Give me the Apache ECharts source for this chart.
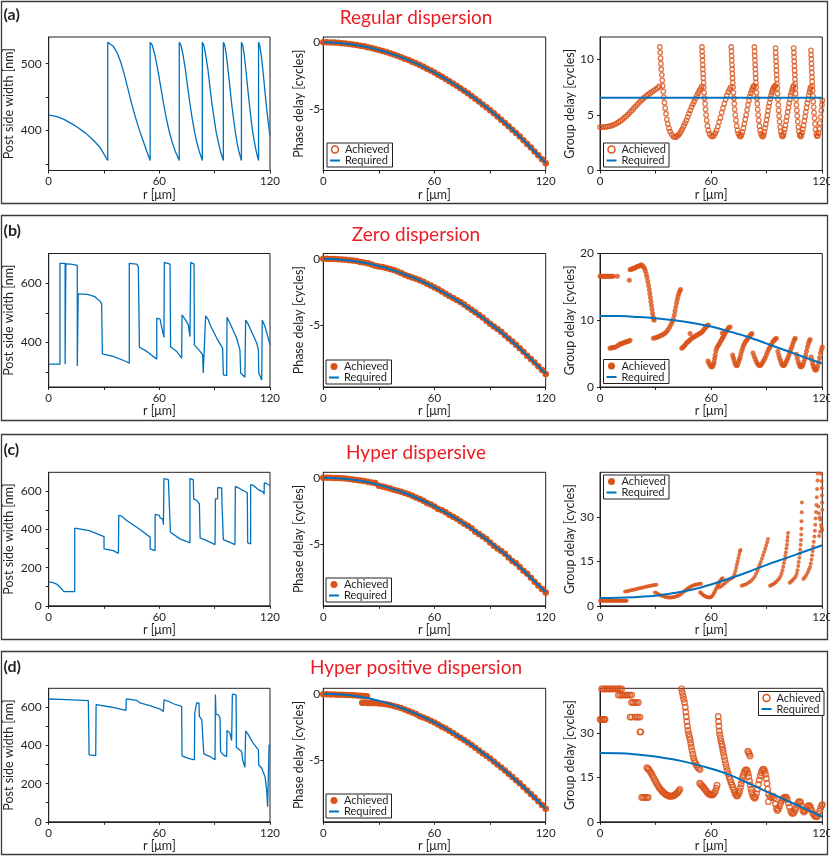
<!DOCTYPE html>
<html>
<head>
<meta charset="utf-8">
<script src="https://cdn.jsdelivr.net/npm/echarts@6/dist/echarts.min.js"></script>
<style>
html, body { margin: 0; padding: 0; background: #fff; }
#main { width: 830px; height: 857px; }
</style>
</head>
<body>
<div id="main"></div>
<script>
// ---------- 数据 ----------
// r 轴刻度
var rTicks = [0, 30, 60, 90, 120];
var rLabels = [0, 60, 120];

// 柱宽 Post side width [nm] —— [r, w]
var widthA = [[0,423],[4,421],[8,417],[12,411],[16,404],[20,396],[24,386],[28,374],[32,355],
  [32,532],[33,531],[35,526],[37,517],[39,503],[41,484],[43,462],[45,440],[47,420],[49,402],[51,386],[53,370],[55,355],
  [55,532],[56.1,528],[57.5,514],[59.1,492],[60.7,466],[62.3,440],[63.8,418],[65.4,398],[67,382],[68.6,369],[69.9,361],[70.8,355],
  [70.8,532],[71.7,528],[72.8,514],[74.1,492],[75.3,466],[76.6,440],[77.8,418],[79.1,398],[80.3,382],[81.6,369],[82.6,361],[83.3,355],
  [83.3,532],[84.1,528],[85.1,514],[86.3,492],[87.4,466],[88.5,440],[89.7,418],[90.8,398],[92,382],[93.1,369],[94,361],[94.7,355],
  [94.7,532],[95.4,528],[96.3,514],[97.2,492],[98.2,466],[99.2,440],[100.2,418],[101.2,398],[102.1,382],[103.1,369],[103.9,361],[104.5,355],
  [104.5,532],[105.2,528],[106,514],[106.9,492],[107.8,466],[108.8,440],[109.7,418],[110.6,398],[111.6,382],[112.5,369],[113.2,361],[113.8,355],
  [113.8,532],[114.4,528],[115.2,514],[116.1,492],[117,466],[117.9,440],[118.8,418],[119.7,398],[120,393]];

var widthB = [[0,327],[6.1,327],[6.1,667],[8.9,667],[8.9,327],[9.3,327],[9.3,665],[12,664],[15.5,660],[15.5,321],[16,321],[16,564],
  [21,562],[25,555],[26,548],[27.8,540],[28.7,530],[29.1,528],[29.1,362],[35,353],[42,336],[43.7,330],[43.7,667],[47.7,664],
  [48.6,656],[49.2,654],[49.2,384],[53.2,370],[58.6,344],[58.6,482],[60.4,479],[60.8,465],[61.8,460],[62.5,417],[62.7,417],
  [62.7,670],[65.8,664],[66.1,660],[66.1,386],[69.4,370],[72.1,347],[72.3,347],[72.3,493],[73.9,479],[74.8,477],[75.7,460],
  [76.6,420],[77,420],[77,670],[78.8,664],[79,660],[79,392],[82.1,370],[83.5,358],[83.8,297],[84.8,291],[85.1,291],[85.1,490],
  [86.6,476],[87.5,460],[91.1,415],[94.3,381],[94.7,381],[94.7,291],[96.5,288],[96.7,288],[96.7,485],[98.3,465],[101.9,415],
  [103.7,375],[104.1,375],[104.1,297],[106.4,283],[106.8,283],[106.8,476],[108.3,460],[112.8,398],[113.7,375],[113.9,375],
  [113.9,297],[115.5,274],[115.8,274],[115.8,476],[117.3,454],[120,392]];

var widthC = [[0,126],[2,123],[4.3,114],[6,99],[7,88],[8.3,74],[14.1,74],[14.1,407],[22,394],[30,363],[30,298],[35,289],
  [37.8,275],[38,275],[38,474],[39.6,470],[42.3,447],[49.5,400],[55,360],[55,298],[57.7,289],[57.7,479],[60,474],[60.4,461],
  [61.8,456],[62.2,425],[62.5,425],[62.5,667],[64.9,661],[65.8,654],[66,654],[66,386],[71.2,351],[76.6,330],[76.6,667],
  [78.4,661],[78.6,661],[78.6,561],[80.2,553],[81.7,535],[82.1,535],[82.1,356],[85.7,342],[90.2,321],[90.4,321],[90.4,561],
  [91.6,561],[91.6,619],[93.8,618],[94,618],[94,526],[94.3,518],[94.7,518],[94.7,347],[98.3,333],[101,321],[101.2,321],
  [101.2,626],[103.7,614],[107.7,593],[107.9,593],[107.9,330],[109.5,325],[109.5,635],[110.9,632],[113.7,609],[116.4,596],
  [116.8,584],[116.9,584],[116.9,644],[118.2,640],[118.8,632],[120,632]];

var widthD = [[0,644],[10,641],[21.5,635],[21.9,635],[21.9,351],[25.5,347],[25.7,347],[25.7,614],[33.6,602],[41.9,584],
  [42.1,584],[42.1,644],[47.7,637],[49.5,623],[54.9,609],[60.4,591],[62.2,579],[62.5,579],[62.5,640],[64.9,632],[67.6,619],
  [72.1,605],[72.3,605],[72.3,346],[75.7,333],[79,325],[79.2,325],[79.2,570],[80,570],[80.2,570],[80.2,623],[81.5,623],
  [81.7,623],[81.7,553],[83,535],[83.9,530],[84.1,530],[84.1,356],[87.5,342],[90.2,325],[90.4,325],[90.4,667],[90.7,667],
  [90.7,565],[92,561],[92.9,544],[93.2,544],[93.2,368],[94.7,351],[96.5,342],[96.7,342],[96.7,479],[98.3,465],[99.2,426],
  [99.6,426],[99.6,670],[101.6,665],[101.8,665],[101.8,391],[104.6,368],[105.2,325],[106.4,286],[106.8,286],[106.8,477],
  [108.3,456],[110.9,412],[113.7,377],[113.9,377],[113.9,298],[115.5,281],[117.3,237],[118.2,167],[118.7,79],[119.2,75],
  [119.5,75],[119.5,404],[120,395]];

// 相位延迟 Phase delay —— 实现值 (r 每 2 μm)
var rPhase = [0,2,4,6,8,10,12,14,16,18,20,22,24,26,28,30,32,34,36,38,40,42,44,46,48,50,52,54,56,58,
  60,62,64,66,68,70,72,74,76,78,80,82,84,86,88,90,92,94,96,98,100,102,104,106,108,110,112,114,116,118,120];
var phaseAchA = [0,0,-0.01,-0.02,-0.04,-0.06,-0.09,-0.12,-0.16,-0.20,-0.25,-0.30,-0.36,-0.43,-0.49,-0.57,-0.64,-0.73,-0.82,-0.91,
  -1.01,-1.11,-1.22,-1.33,-1.45,-1.57,-1.70,-1.83,-1.97,-2.11,-2.26,-2.42,-2.57,-2.74,-2.91,-3.08,-3.26,-3.44,-3.63,-3.82,
  -4.02,-4.23,-4.43,-4.65,-4.87,-5.09,-5.32,-5.55,-5.79,-6.04,-6.29,-6.54,-6.80,-7.06,-7.33,-7.61,-7.88,-8.17,-8.46,-8.75,-9.05];
var phaseAchB = [0,0,-0.01,-0.02,-0.04,-0.05,-0.07,-0.10,-0.13,-0.17,-0.23,-0.28,-0.33,-0.42,-0.52,-0.58,-0.62,-0.69,-0.76,-0.84,
  -0.95,-1.06,-1.19,-1.30,-1.40,-1.49,-1.61,-1.72,-1.86,-2.00,-2.14,-2.27,-2.45,-2.62,-2.78,-2.94,-3.08,-3.24,-3.42,-3.62,
  -3.82,-4.01,-4.20,-4.40,-4.63,-4.86,-5.06,-5.26,-5.47,-5.73,-5.97,-6.20,-6.44,-6.69,-6.96,-7.25,-7.50,-7.77,-8.05,-8.33,-8.62];
var phaseAchC = [0,0,-0.01,-0.02,-0.03,-0.05,-0.07,-0.10,-0.13,-0.17,-0.21,-0.25,-0.30,-0.36,-0.40,-0.60,-0.66,-0.74,-0.82,-0.90,
  -0.98,-1.06,-1.15,-1.25,-1.36,-1.48,-1.60,-1.74,-1.90,-2.02,-2.17,-2.34,-2.45,-2.60,-2.78,-2.93,-3.08,-3.27,-3.45,-3.60,
  -3.80,-4.05,-4.22,-4.40,-4.60,-4.86,-5.10,-5.30,-5.50,-5.70,-5.98,-6.25,-6.42,-6.70,-6.98,-7.20,-7.50,-7.80,-8.08,-8.34,-8.60];
var phaseAchD = [-0.05,-0.05,-0.06,-0.07,-0.08,-0.09,-0.10,-0.11,-0.12,-0.14,-0.16,-0.18,-0.70,-0.70,-0.71,-0.73,-0.76,-0.80,-0.86,-0.92,
  -1.00,-1.08,-1.18,-1.30,-1.42,-1.52,-1.70,-1.78,-1.90,-2.03,-2.17,-2.32,-2.48,-2.62,-2.78,-2.95,-3.13,-3.30,-3.48,-3.66,
  -3.85,-4.05,-4.26,-4.46,-4.65,-4.86,-5.08,-5.30,-5.53,-5.76,-6.00,-6.24,-6.48,-6.72,-6.99,-7.26,-7.52,-7.78,-8.06,-8.35,-8.63];
var phaseAchDExtra = [[21,-0.68],[22,-0.69],[23,-0.19],[23.5,-0.20],[25,-0.70],[27,-0.70]];

// 要求值 (r 每 10 μm)
var rReq = [0,10,20,30,40,50,60,70,80,90,100,110,120];
var phaseReqA = [0,-0.06,-0.25,-0.57,-1.01,-1.57,-2.26,-3.08,-4.02,-5.09,-6.29,-7.61,-9.05];
var phaseReqB = [0,-0.06,-0.24,-0.54,-0.96,-1.49,-2.15,-2.93,-3.82,-4.84,-5.97,-7.23,-8.60];
var phaseReqC = [0,-0.06,-0.24,-0.54,-0.96,-1.49,-2.15,-2.93,-3.82,-4.84,-5.97,-7.23,-8.58];
var phaseReqD = [0,-0.06,-0.24,-0.54,-0.96,-1.50,-2.16,-2.94,-3.84,-4.86,-6.00,-7.26,-8.63];
var gdReqA = [6.55,6.55,6.55,6.55,6.55,6.55,6.55,6.55,6.55,6.55,6.55,6.55,6.55];
var gdReqB = [10.65,10.62,10.5,10.3,10.0,9.6,9.05,8.3,7.5,6.5,5.5,4.5,3.5];
var gdReqC = [2.6,2.7,3.0,3.4,4.3,5.5,7.2,9.2,11.4,13.8,16.0,18.2,20.4];
var gdReqD = [23.2,23.1,22.7,22.0,21.0,19.6,17.9,15.8,13.0,10.2,7.4,4.6,1.7];

// 群延迟 Group delay —— 实现值 [r, cycles]
var gdAchA = [[0,3.9],[1,3.9],[2,3.9],[3,3.92],[4,3.95],[5,3.98],[6,4.02],[7,4.08],[8,4.15],[9,4.24],[10,4.34],[11,4.45],
  [12,4.58],[13,4.72],[14,4.87],[15,5.03],[16,5.2],[17,5.37],[18,5.55],[19,5.73],[20,5.91],[21,6.08],[22,6.25],[23,6.41],
  [24,6.56],[25,6.7],[26,6.83],[27,6.95],[28,7.07],[29,7.18],[30,7.3],[31,7.42],[32,7.55],
  [32.3,11.1],[32.5,10.6],[32.7,10.1],[32.9,9.6],[33.1,9.1],[33.35,8.6],[33.6,8.1],[33.85,7.6],[34.15,7.1],[34.45,6.6],
  [34.8,6.1],[35.2,5.6],[35.65,5.1],[36.1,4.6],[36.6,4.2],[37.2,3.8],[37.9,3.5],[38.7,3.25],[39.6,3.05],[40.5,3.0],
  [41,3.02],[41.7,3.1],[42.4,3.2],[43.1,3.35],[43.8,3.55],[44.5,3.75],[45.2,4.0],[45.9,4.25],[46.6,4.5],[47.3,4.8],[48,5.1],
  [48.7,5.4],[49.4,5.7],[50.1,5.95],[50.8,6.2],[51.5,6.45],[52.2,6.7],[52.9,6.95],[53.6,7.15],[54.3,7.35],[54.9,7.55],
  [55.05,11.1],[55.15,10.7],[55.25,10.3],[55.35,9.9],[55.45,9.5],[55.55,9.1],[55.65,8.7],[55.75,8.3],[55.9,7.9],[56.05,7.5],
  [56.25,7.0],[56.45,6.5],[56.7,6.0],[56.95,5.5],[57.25,5.0],[57.6,4.5],[58,4.0],[58.5,3.6],[59.1,3.3],[59.9,3.1],[60.8,3.05],
  [61.5,3.15],[62.2,3.35],[62.9,3.6],[63.6,3.95],[64.3,4.35],[65,4.75],[65.7,5.2],[66.4,5.6],[67.1,6.0],[67.8,6.4],[68.5,6.75],
  [69.2,7.05],[69.9,7.3],[70.6,7.5],
  [70.85,11.1],[70.95,10.7],[71.05,10.3],[71.15,9.9],[71.25,9.5],[71.35,9.1],[71.45,8.7],[71.55,8.3],[71.7,7.9],[71.85,7.5],
  [72.05,7.0],[72.25,6.5],[72.5,6.0],[72.75,5.5],[73.05,5.0],[73.4,4.5],[73.8,4.0],[74.2,3.6],[74.7,3.3],[75.3,3.1],[75.9,3.05],
  [76.4,3.2],[76.9,3.45],[77.4,3.8],[77.9,4.2],[78.4,4.6],[78.9,5.0],[79.4,5.45],[79.9,5.9],[80.4,6.3],[80.9,6.65],[81.4,6.95],
  [81.9,7.2],[82.4,7.4],[82.9,7.55],[83.2,7.6],
  [83.35,11.1],[83.45,10.7],[83.55,10.3],[83.65,9.9],[83.75,9.5],[83.85,9.1],[83.95,8.7],[84.05,8.3],[84.2,7.9],[84.35,7.5],
  [84.5,7.0],[84.7,6.5],[84.9,6.0],[85.15,5.5],[85.4,5.0],[85.7,4.5],[86.05,4.0],[86.45,3.6],[86.9,3.3],[87.4,3.1],[87.9,3.05],
  [88.3,3.2],[88.7,3.45],[89.1,3.8],[89.5,4.15],[89.9,4.55],[90.3,4.95],[90.7,5.35],[91.1,5.75],[91.5,6.1],[91.9,6.45],
  [92.3,6.75],[92.7,7.0],[93.1,7.2],[93.5,7.35],[93.9,7.5],[94.3,7.55],[94.6,7.6],
  [94.75,11.0],[94.85,10.6],[94.95,10.2],[95.05,9.8],[95.15,9.4],[95.25,9.0],[95.35,8.6],[95.45,8.2],[95.55,7.8],[95.7,7.4],
  [95.85,6.9],[96.05,6.4],[96.25,5.9],[96.45,5.4],[96.7,4.9],[96.95,4.4],[97.25,3.9],[97.6,3.5],[98,3.2],[98.5,3.05],
  [98.9,3.15],[99.3,3.4],[99.7,3.7],[100.1,4.05],[100.5,4.45],[100.9,4.85],[101.3,5.25],[101.7,5.65],[102.1,6.05],
  [102.5,6.4],[102.9,6.75],[103.3,7.0],[103.7,7.25],[104.1,7.45],[104.4,7.6],
  [104.55,11.0],[104.65,10.6],[104.75,10.2],[104.85,9.8],[104.95,9.4],[105.05,9.0],[105.15,8.6],[105.25,8.2],[105.35,7.8],
  [105.5,7.4],[105.65,6.9],[105.85,6.4],[106.05,5.9],[106.25,5.4],[106.5,4.9],[106.75,4.4],[107.05,3.9],[107.4,3.5],
  [107.8,3.2],[108.3,3.05],[108.7,3.15],[109.1,3.4],[109.5,3.7],[109.9,4.05],[110.3,4.45],[110.7,4.85],[111.1,5.25],
  [111.5,5.65],[111.9,6.05],[112.3,6.4],[112.7,6.75],[113.1,7.05],[113.4,7.3],[113.7,7.5],
  [113.85,10.8],[113.95,10.4],[114.05,10.0],[114.15,9.6],[114.25,9.2],[114.35,8.8],[114.45,8.4],[114.55,8.0],[114.65,7.6],
  [114.8,7.2],[114.95,6.7],[115.15,6.2],[115.35,5.7],[115.55,5.2],[115.8,4.7],[116.05,4.2],[116.35,3.7],[116.7,3.3],
  [117.1,3.1],[117.5,3.1],[117.9,3.35],[118.3,3.75],[118.7,4.25],[119.1,4.8],[119.5,5.4],[119.8,5.9],[120,6.3]];

var gdAchB = [[0,16.6],[0.6,16.6],[1.2,16.6],[1.8,16.6],[2.4,16.6],[3,16.6],[3.6,16.6],[4.2,16.6],[4.8,16.6],[5.4,16.6],
  [6,16.6],[6.6,16.6],[7.2,16.6],[9.4,16.6],
  [5.4,5.8],[6,5.85],[6.6,5.9],[7.2,5.9],[7.8,5.95],[8.4,6.0],[9.6,6.2],[10.2,6.3],[10.8,6.4],[11.4,6.5],[12,6.5],[12.6,6.6],
  [13.2,6.7],[13.8,6.7],[14.4,6.8],[15,6.8],[15.6,6.9],[16.2,7.0],[15.8,16.0],
  [16.2,17.6],[16.8,17.6],[17.4,17.7],[18,17.8],[18.6,17.8],[19.2,17.9],[19.8,18.0],[20.4,18.1],[21,18.1],[21.6,18.2],
  [22.2,18.3],[22.8,18.2],[23.4,18.0],[24,17.8],[24.5,17.4],[25,16.9],[25.4,16.4],[25.8,15.8],[26.2,15.2],[26.6,14.6],
  [26.9,14.0],[27.2,13.4],[27.5,12.8],[27.8,12.2],[28.1,11.6],[28.4,11.0],[28.7,10.5],[29,10.2],[29.2,10.0],
  [28.8,7.3],[29.6,7.35],[30.4,7.4],[31.2,7.5],[32,7.6],[32.8,7.7],[33.6,7.8],[34.4,7.95],[35.2,8.1],[36,8.3],[36.8,8.6],
  [37.6,9.0],[38.4,9.4],[39,9.8],[39.6,10.2],[40.1,10.8],[40.5,11.4],[40.9,12.0],[41.3,12.6],[41.7,13.1],[42.1,13.6],
  [42.6,14.0],[43.1,14.4],[43.5,14.6],
  [44.1,5.8],[44.7,5.9],[45.3,6.1],[45.9,6.3],[46.5,6.5],[47.1,6.7],[47.7,6.8],[48.3,7.0],[48.6,8.0],[48.9,7.1],[49.5,7.3],
  [50.1,7.4],[50.7,7.5],[51.3,7.6],[51.9,7.7],[52.5,7.8],[53.1,7.9],[53.7,8.0],[54.3,8.1],[54.9,8.2],[55.5,8.4],[56.1,8.6],
  [56.7,8.8],[57.3,9.0],[57.9,9.2],[58.5,9.3],
  [58.3,3.9],[58.8,3.6],[59.3,3.3],[59.8,3.1],[60.3,3.0],[60.8,3.1],[61.3,3.4],[61.6,3.8],[61.9,4.3],[62.2,4.8],[62.6,5.4],
  [63,5.8],[63.5,6.1],[64,6.3],[64.5,6.5],[65,6.8],[65.5,7.0],[66,7.3],[66.5,7.5],[67,7.8],[67.5,8.0],[68,8.3],[68.5,8.5],
  [69,8.7],[69.5,8.9],[70.2,9.0],[66,8.1],
  [71.6,4.8],[72,4.4],[72.4,4.0],[72.8,3.6],[73.3,3.3],[73.8,3.2],[74.3,3.3],[74.8,3.7],[75.2,4.1],[75.6,4.4],[76,4.9],
  [76.5,5.4],[77,5.8],[77.5,6.2],[78,6.5],[78.6,6.8],[79.2,7.0],[79.8,7.3],[80.4,7.5],[81,7.7],[81.6,7.9],[82,8.0],
  [82.6,5.1],[83.2,4.6],[83.8,4.2],[84.4,3.8],[85,3.5],[85.6,3.3],[86.2,3.2],[86.8,3.3],[87.4,3.5],[88,3.8],[88.6,4.1],
  [89.2,4.4],[89.8,4.8],[90.4,5.2],[91,5.6],[91.6,5.9],[92.2,6.2],[92.8,6.5],[93.4,6.8],[94,7.0],[94.6,7.2],[95.2,7.3],
  [96,5.3],[96.5,4.8],[97,4.3],[97.5,3.9],[98,3.5],[98.5,3.3],[99,3.2],[99.5,3.3],[100,3.5],[100.5,3.8],[101,4.1],[101.5,4.4],
  [102,4.8],[102.5,5.2],[103,5.6],[103.5,6.0],[104,6.4],[104.5,6.8],[105,7.1],[105.4,7.3],
  [106,4.9],[106.5,4.3],[107,3.8],[107.5,3.4],[108,3.1],[108.5,3.0],[109,3.1],[109.5,3.3],[110,3.7],[110.5,4.2],[111,4.8],
  [111.5,5.4],[112,6.0],[112.5,6.5],[113,6.9],[113.4,7.1],
  [114,4.5],[114.4,4.0],[114.8,3.5],[115.2,3.1],[115.6,2.8],[116,2.6],[116.5,2.5],[117,2.7],[117.5,3.1],[118,3.7],[118.5,4.4],
  [119,5.1],[119.5,5.6],[120,6.0]];

var gdAchC = [[0,1.7],[0.6,1.7],[1.2,1.7],[1.8,1.7],[2.4,1.7],[3,1.7],[3.6,1.7],[4.2,1.7],[4.8,1.7],[5.4,1.7],[6,1.7],
  [6.6,1.7],[7.2,1.7],[7.8,1.7],[8.4,1.7],[9,1.7],[9.6,1.7],[10.2,1.7],[10.8,1.7],[11.4,1.7],[12,1.7],[12.6,1.7],[13.2,1.7],
  [13.8,1.7],[14.4,1.7],
  [13.5,4.8],[14.5,4.9],[15.5,5.0],[16.5,5.2],[17.5,5.3],[18.5,5.5],[19.5,5.6],[20.5,5.8],[21.5,5.9],[22.5,6.1],[23.5,6.2],
  [24.5,6.4],[25.5,6.5],[26.5,6.7],[27.5,6.8],[28.5,6.9],[29.5,7.0],[30.5,7.1],
  [29.7,4.5],[30.5,4.3],[31.3,4.0],[32.1,3.7],[32.9,3.5],[33.7,3.4],[34.5,3.2],[35.3,3.0],[36.1,2.9],[36.9,2.8],[37.7,2.8],
  [38.5,2.8],[39.3,2.9],[40.1,3.0],[40.9,3.1],[41.7,3.3],[42.5,3.5],[43.3,3.8],[44.1,4.2],[44.9,4.6],[45.7,5.0],[46.5,5.4],
  [47.3,5.8],[48.1,6.1],[48.9,6.4],[49.7,6.7],[50.5,6.9],[51.3,7.1],[52.1,7.2],[52.9,7.3],[53.7,7.4],[54.5,7.4],
  [54,4.6],[54.7,4.2],[55.4,3.8],[56.1,3.5],[56.8,3.2],[57.5,3.0],[58.2,2.9],[58.9,2.8],[59.6,2.9],[60.3,3.1],[61,3.6],
  [61.5,4.2],[62,4.8],[62.5,5.5],[63,6.2],[63.5,6.9],[64,7.5],[64.5,8.0],[65,8.5],[65.6,9.0],[66.2,9.3],
  [64.4,6.2],[65.4,6.6],[66.4,7.1],[67.4,7.6],[68.4,8.2],[69.4,8.7],[70.4,9.1],[71.2,9.4],[72,9.7],[72.6,10.6],[73.1,11.7],
  [73.5,12.8],[73.9,13.9],[74.3,15.0],[74.7,16.1],[75.1,17.2],[75.5,18.3],[75.8,18.8],
  [76.5,6.8],[77.5,7.0],[78.5,7.2],[79.5,7.5],[80.5,7.9],[81.5,8.4],[82.5,9.0],[83.5,9.8],[84.3,10.8],[85,11.8],[85.6,12.8],
  [86.2,13.8],[86.8,14.8],[87.4,15.9],[88,17.0],[88.6,18.1],[89.2,19.2],[89.7,20.3],[90.2,21.4],[90.7,22.5],
  [91.8,6.8],[92.6,7.0],[93.4,7.3],[94.2,7.6],[95,8.0],[95.8,8.5],[96.6,9.1],[97.4,9.9],[98,10.9],[98.5,12.0],[98.9,13.2],
  [99.3,14.4],[99.7,15.6],[100,16.8],[100.3,18.0],[100.6,19.3],[100.9,20.6],[101.1,21.9],[101.3,23.2],[101.5,24.5],
  [102.4,7.8],[103.2,8.2],[104,8.7],[104.8,9.2],[105.6,9.9],[106.2,10.8],[106.6,12.0],[107,13.4],[107.3,14.8],[107.6,16.2],
  [107.9,17.6],[108.1,19.0],[108.3,20.6],[108.5,22.2],[108.6,24.0],[108.7,26.0],[108.8,28.5],[108.9,31.5],[109,34.8],
  [109.8,9.0],[110.6,9.6],[111.4,10.4],[112.2,11.3],[112.8,12.2],[113.4,13.1],[113.8,14.3],[114.2,15.6],[114.5,17.0],
  [114.8,18.5],[115.1,20.0],[115.4,21.6],[115.7,23.4],[116,25.3],[116.2,27.3],[116.4,29.4],[116.6,31.6],[116.8,34.0],
  [117,36.6],[117.2,39.4],[117.4,42.2],[117.6,44.6],
  [117.9,33.5],[118.2,31.2],[118.6,29.8],[119,29.0],[119.3,27.2],[119.6,26.4],[120,25.6],[118.3,23.5],[118.8,25.0],
  [119.5,44.5],[119.6,42.0],[119.7,39.6],[119.8,37.2],[119.9,34.8],[120,32.4]];

var gdAchD = [[0,34.5],[0.6,34.5],[1.2,34.5],[1.8,34.5],[2.4,34.5],[2.7,34.5],
  [0.9,44.8],[1.8,44.8],[2.7,44.8],[3.6,44.8],[4.5,44.8],[5.4,44.8],[6.3,44.8],[7.2,44.8],[8.1,44.8],[9,44.8],[9.9,44.8],
  [10.8,44.8],[11.7,44.8],
  [9.9,42.7],[10.8,42.7],[11.7,42.7],[12.6,42.7],[13.5,42.7],[14.4,42.7],[15.3,42.7],[16.2,42.7],[17.1,42.7],
  [17,40.2],[17.9,40.2],[18.8,40.2],[19.7,40.2],[20.7,40.2],
  [16.2,35.3],[17.1,35.3],[18.9,35.3],[19.8,35.3],[20.7,35.3],[21.6,35.3],[21.6,30.3],[22,30.3],
  [22.5,8.2],[23.4,8.2],[24.3,8.2],[25.2,8.2],[26,8.2],
  [25.3,18.2],[25.9,17.9],[26.5,17.5],[27.1,16.9],[27.7,16.3],[28.3,15.6],[28.9,14.9],[29.5,14.2],[30.1,13.5],[30.7,12.8],
  [31.3,12.2],[31.9,11.6],[32.5,11.1],[33.1,10.6],[33.7,10.2],[34.3,9.8],[34.9,9.5],[35.5,9.2],[36.1,9.0],[36.7,8.8],
  [37.3,8.7],[37.9,8.6],[38.5,8.6],[39.1,8.7],[39.7,8.8],[40.3,9.0],[40.9,9.3],[41.5,9.6],[42.1,10.0],[42.6,10.4],[43.1,10.9],
  [44,44.8],[44.4,43.6],[44.8,42.5],[45.2,41.3],[45.6,40.2],[46,38.6],[46.3,37.0],[46.6,35.4],[46.9,33.8],[47.2,32.2],
  [47.5,30.8],[47.9,29.6],[48.3,28.6],[48.7,27.6],[49,26.4],[49.3,25.2],[49.7,24.0],[50.1,22.8],[50.5,21.6],[51,20.6],
  [51.5,19.8],[52,19.1],[52.6,18.5],[53.3,18.0],[54,17.6],
  [53.8,13.0],[54.4,12.6],[55,12.2],[55.6,11.8],[56.2,11.3],[56.8,10.8],[57.4,10.3],[58,9.8],[58.6,9.5],[59.2,9.2],[59.8,9.1],
  [60.4,9.0],[61,9.1],[61.6,9.5],[62.2,10.2],[62.8,11.3],[63.2,12.3],
  [63.8,35.5],[64,33.8],[64.2,32.2],[64.4,30.6],[64.7,29.4],[65,28.3],[65.3,27.2],[65.7,26.2],[66,25.4],[66.3,24.3],
  [66.6,23.2],[67,22.0],[67.4,20.8],[67.8,19.6],[68.2,18.5],[68.7,17.3],[69.2,16.2],[69.7,15.1],[70.2,14.2],[70.7,13.3],
  [71.2,12.5],[71.7,11.7],[72.2,10.8],[72.7,9.9],[73.2,9.2],[73.8,8.7],
  [74.4,8.9],[74.9,9.5],[75.4,10.4],[75.8,11.5],[76.2,12.7],[76.6,13.9],[77,15.0],[77.4,15.9],[77.9,16.7],[78.4,17.3],
  [78.9,17.6],[79.4,17.3],[79.9,16.4],[80.3,15.2],[80.7,13.8],[81.1,12.4],[81.5,11.0],[81.9,9.9],[82.4,8.9],[82.9,8.3],
  [83.5,7.9],[79.8,23.8],[80.2,23.4],[80.6,22.8],[81,22.2],
  [84,8.4],[84.5,9.5],[85,11.0],[85.5,12.6],[86,14.1],[86.5,15.4],[87,16.5],[87.5,17.3],[88,17.7],[88.5,17.6],[89,17.0],
  [89.4,16.0],[89.8,14.6],[90.2,12.9],[90.6,11.0],[91,9.3],[90.9,6.8],
  [91.8,8.5],[92.6,8.2],[93.4,8.6],[94.1,8.0],[94.7,6.0],[95.2,4.5],[95.7,3.8],[96.3,4.2],[96.9,5.2],[97.5,6.3],[98.1,7.2],
  [98.7,7.7],[99.3,8.1],[99.9,8.3],[100.5,8.3],[101.1,7.6],[101.7,6.3],[102.3,4.9],[102.9,3.6],[103.5,3.0],[104.1,2.8],
  [104.7,3.1],[105.3,3.9],[105.9,4.9],[106.5,5.9],[107.1,6.6],[107.7,6.9],[108.3,6.5],[108.9,5.3],[109.5,3.9],[110.1,3.3],
  [110.7,3.6],[111.3,4.3],[111.9,5.0],[112.5,5.4],[113.1,5.4],[113.7,4.8],[114.3,3.8],[114.9,2.9],[115.5,2.3],[116.1,1.9],
  [116.7,1.7],[117.3,1.8],[117.9,2.6],[118.5,3.6],[119.1,4.7],[119.7,5.5],[120,5.8]];

// ---------- 版式 ----------
var BLUE = '#0072BD', ORANGE = '#D95319', TXT = '#231f20', FONT = 'Lato';
var ROW_TOP = [37, 253.5, 472.3, 688.3];
var PLOT_H = 133.5;
var COL_LEFT = [48.7, 323.3, 600];
var COL_W = [221.3, 222.4, 222.3];

var rowCfg = [
  { w: widthA, wy: [340, 540], wt: [350, 400, 450, 500], wl: [400, 500],
    ph: phaseAchA, phr: phaseReqA, gd: gdAchA, gdr: gdReqA,
    gy: [0, 12], gt: [0, 5, 10], gl: [0, 5, 10], ring: true, gdSize: 4.5, gdBorder: 1.3,
    leg2: [327, 143], leg3: [603.5, 143] },
  { w: widthB, wy: [250, 700], wt: [300, 400, 500, 600], wl: [400, 600],
    ph: phaseAchB, phr: phaseReqB, gd: gdAchB, gdr: gdReqB,
    gy: [0, 20], gt: [0, 10, 20], gl: [0, 10, 20], ring: false, gdSize: 5, gdBorder: 0,
    leg2: [326, 360], leg3: [603.5, 359.5] },
  { w: widthC, wy: [0, 700], wt: [0, 100, 200, 300, 400, 500, 600], wl: [0, 200, 400, 600],
    ph: phaseAchC, phr: phaseReqC, gd: gdAchC, gdr: gdReqC,
    gy: [0, 45], gt: [0, 15, 30], gl: [0, 15, 30], ring: false, gdSize: 4, gdBorder: 0,
    leg2: [326, 578], leg3: [603.5, 475] },
  { w: widthD, wy: [0, 700], wt: [0, 100, 200, 300, 400, 500, 600], wl: [0, 200, 400, 600],
    ph: phaseAchD, phr: phaseReqD, gd: gdAchD, gdr: gdReqD,
    gy: [0, 45], gt: [0, 15, 30], gl: [0, 15, 30], ring: true, gdSize: 5.5, gdBorder: 1.4,
    leg2: [326, 794], leg3: [758.5, 691.5] }
];

var titles = ['Regular dispersion', 'Zero dispersion', 'Hyper dispersive', 'Hyper positive dispersion'];
var tags = ['(a)', '(b)', '(c)', '(d)'];
var titleY = [18, 235, 453, 668];
var tagY = [15, 231, 450, 667];
var boxes = [[1.5, 202], [215.5, 205], [434.5, 205], [651.5, 203]];

var grids = [], xAxes = [], yAxes = [], series = [], legends = [], graphics = [];

function zip(rs, vs) {
  return vs.map(function (v, i) { return [rs[i], v]; });
}

function addAxes(gi, col, y) {
  var yNames = ['Post side width [nm]', 'Phase delay [cycles]', 'Group delay [cycles]'];
  var nameGaps = [33, 17, 24];
  var labelMargins = [7, 3, 6];
  xAxes.push({
    gridIndex: gi, type: 'value', min: 0, max: 120,
    name: 'r [μm]', nameLocation: 'middle', nameGap: 17,
    nameTextStyle: { fontFamily: FONT, fontSize: 12.5, color: TXT },
    axisLine: { show: true, onZero: false, lineStyle: { color: TXT, width: 1 } },
    axisTick: { show: true, inside: false, length: 3, customValues: rTicks, lineStyle: { color: TXT } },
    axisLabel: { customValues: rLabels, margin: 5, fontFamily: FONT, fontSize: 11.5, color: TXT },
    splitLine: { show: false }
  });
  yAxes.push({
    gridIndex: gi, type: 'value', min: y.min, max: y.max,
    name: yNames[col], nameLocation: 'middle', nameGap: nameGaps[col],
    nameTextStyle: { fontFamily: FONT, fontSize: 12.5, color: TXT },
    axisLine: { show: true, onZero: false, lineStyle: { color: TXT, width: 1 } },
    axisTick: { show: true, inside: false, length: 3, customValues: y.ticks, lineStyle: { color: TXT } },
    axisLabel: { customValues: y.labels, margin: labelMargins[col], fontFamily: FONT, fontSize: 12, color: TXT },
    splitLine: { show: false }
  });
}

function addLegend(pos, ring) {
  legends.push({
    left: pos[0], top: pos[1], orient: 'vertical', itemGap: 0, itemWidth: 10, itemHeight: 7,
    padding: [1, 3, 1, 2], borderColor: TXT, borderWidth: 1, backgroundColor: '#fff', borderRadius: 0,
    selectedMode: false,
    textStyle: { fontFamily: FONT, fontSize: 11, color: TXT, lineHeight: 11 },
    data: [
      { name: 'Achieved', icon: 'circle',
        itemStyle: ring ? { color: '#fff', borderColor: ORANGE, borderWidth: 1.5 } : { color: ORANGE, borderWidth: 0 } },
      { name: 'Required', itemStyle: { color: 'rgba(0,0,0,0)', borderWidth: 0, opacity: 0 },
        lineStyle: { color: BLUE, width: 2 } }
    ]
  });
}

rowCfg.forEach(function (rc, ri) {
  for (var col = 0; col < 3; col++) {
    grids.push({
      left: COL_LEFT[col], top: ROW_TOP[ri], width: COL_W[col], height: PLOT_H,
      show: true, borderColor: TXT, borderWidth: 1, backgroundColor: 'transparent',
      containLabel: false, outerBoundsMode: 'none'
    });
  }
  var g0 = ri * 3, g1 = ri * 3 + 1, g2 = ri * 3 + 2;
  addAxes(g0, 0, { min: rc.wy[0], max: rc.wy[1], ticks: rc.wt, labels: rc.wl });
  addAxes(g1, 1, { min: -9.6, max: 0.4, ticks: [-5, 0], labels: [-5, 0] });
  addAxes(g2, 2, { min: rc.gy[0], max: rc.gy[1], ticks: rc.gt, labels: rc.gl });

  // 柱宽曲线
  series.push({
    name: 'width', type: 'line', xAxisIndex: g0, yAxisIndex: g0, data: rc.w,
    symbol: 'none', lineStyle: { color: BLUE, width: 1.3 }, itemStyle: { color: BLUE }
  });

  // 相位延迟
  var phData = zip(rPhase, rc.ph);
  if (ri === 3) phData = phData.concat(phaseAchDExtra);
  series.push({
    name: 'Achieved', type: 'scatter', xAxisIndex: g1, yAxisIndex: g1, data: phData,
    symbol: 'circle', symbolSize: 6.5, itemStyle: { color: ORANGE, opacity: 1 }
  });
  series.push({
    name: 'Required', type: 'line', xAxisIndex: g1, yAxisIndex: g1, data: zip(rReq, rc.phr),
    smooth: true, symbol: 'none', showSymbol: false, lineStyle: { color: BLUE, width: 2 }, itemStyle: { color: BLUE }
  });

  // 群延迟
  series.push({
    name: 'Achieved', type: 'scatter', xAxisIndex: g2, yAxisIndex: g2, data: rc.gd,
    symbol: 'circle', symbolSize: rc.gdSize,
    itemStyle: rc.ring ? { color: 'rgba(0,0,0,0)', borderColor: ORANGE, borderWidth: rc.gdBorder } : { color: ORANGE }
  });
  series.push({
    name: 'Required', type: 'line', xAxisIndex: g2, yAxisIndex: g2, data: zip(rReq, rc.gdr),
    smooth: true, symbol: 'none', showSymbol: false, lineStyle: { color: BLUE, width: 2 }, itemStyle: { color: BLUE }
  });

  addLegend(rc.leg2, ri === 0);
  addLegend(rc.leg3, rc.ring);

  // 外框、标题、编号
  graphics.push({
    type: 'rect', shape: { x: 1.5, y: boxes[ri][0], width: 826, height: boxes[ri][1] },
    style: { fill: 'none', stroke: '#3a3a3a', lineWidth: 1.3 }, silent: true
  });
  graphics.push({
    type: 'text', x: 416, y: titleY[ri],
    style: { text: titles[ri], fill: '#ec1c24', font: '19px Lato',
      textAlign: 'center', textVerticalAlign: 'middle', align: 'center', verticalAlign: 'middle' }
  });
  graphics.push({
    type: 'text', x: 3.5, y: tagY[ri],
    style: { text: tags[ri], fill: TXT, font: 'bold 16px Lato',
      textAlign: 'left', textVerticalAlign: 'middle', align: 'left', verticalAlign: 'middle' }
  });
});

var myChart = echarts.init(document.getElementById('main'), null, { renderer: 'canvas' });
myChart.setOption({
  animation: false,
  backgroundColor: '#fff',
  grid: grids,
  xAxis: xAxes,
  yAxis: yAxes,
  legend: legends,
  series: series,
  graphic: graphics
});
</script>
</body>
</html>
